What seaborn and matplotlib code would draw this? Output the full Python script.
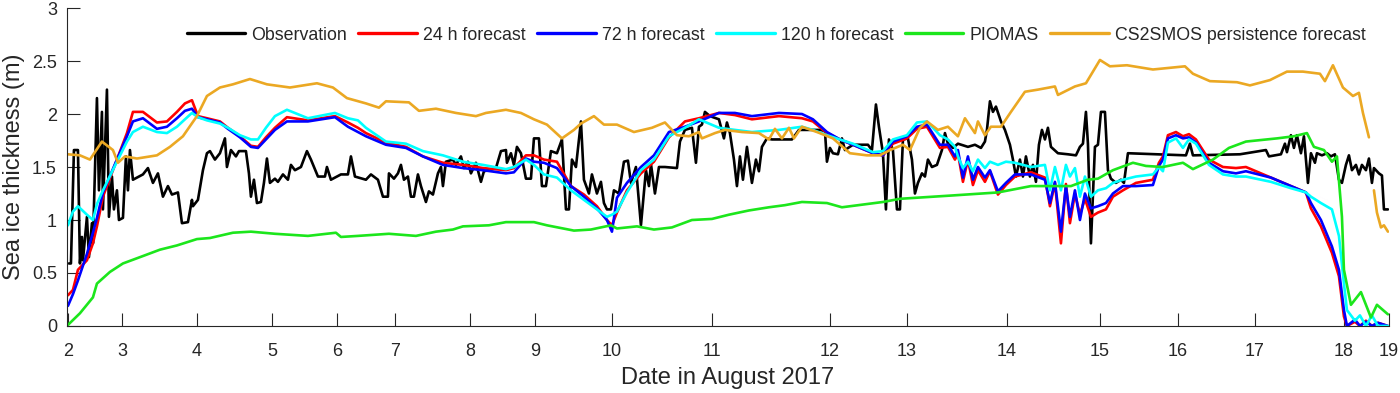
# %%
# ===== Loading Libraries =====
import numpy as np
import pandas as pd
import matplotlib
matplotlib.use('Agg')
import matplotlib.pyplot as plt
import seaborn as sns

# %%
# ===== Data =====
# x = along-track sample position, y = sea ice thickness (m)

day_ticks = [0, 54, 129, 204, 269, 327, 402, 467, 544, 644, 762, 839, 939, 1032, 1110, 1187, 1276, 1321]
day_labels = ['2', '3', '4', '5', '6', '7', '8', '9', '10', '11', '12', '13', '14', '15', '16', '17', '18', '19']
thick_ticks = [0, 0.5, 1, 1.5, 2, 2.5, 3]
thick_labels = ['0', '0.5', '1', '1.5', '2', '2.5', '3']

obs_pos = [
    1, 3, 6, 10, 12, 14, 15, 19, 21, 24,
    25, 29, 31, 34, 35, 39, 41, 44, 46, 49,
    51, 55, 58, 60, 62, 65, 75, 80, 85, 90,
    95, 100, 104, 110, 114, 120, 124, 125, 130, 135,
    139, 142, 147, 152, 157, 159, 163, 168, 171, 178,
    181, 183, 186, 189, 193, 196, 199, 202, 207, 210,
    215, 220, 223, 227, 233, 239, 243, 250, 257, 259,
    263, 273, 280, 283, 287, 298, 303, 310, 315, 320,
    321, 326, 330, 333, 336, 340, 343, 346, 350, 353,
    358, 361, 365, 370, 373, 375, 378, 385, 388, 393,
    396, 400, 403, 408, 413, 416, 421, 428, 433, 438,
    439, 443, 446, 449, 453, 458, 463, 466, 471, 474,
    478, 483, 489, 494, 498, 501, 504, 508, 513, 516,
    521, 524, 529, 533, 536, 539, 543, 546, 551, 556,
    560, 563, 568, 573, 578, 581, 583, 587, 591, 597,
    609, 612, 617, 624, 628, 631, 634, 637, 642, 651,
    656, 659, 662, 666, 669, 672, 675, 679, 684, 688,
    691, 694, 699, 704, 717, 724, 731, 734, 752, 757,
    759, 762, 765, 770, 774, 777, 785, 800, 804, 808,
    811, 815, 818, 821, 825, 829, 832, 835, 840, 844,
    847, 850, 854, 857, 860, 864, 869, 874, 877, 880,
    885, 890, 900, 907, 913, 917, 919, 922, 925, 928,
    933, 937, 942, 945, 948, 952, 955, 958, 962, 965,
    968, 971, 974, 977, 980, 983, 990, 1000, 1008, 1012,
    1015, 1018, 1020, 1023, 1027, 1030, 1033, 1037, 1040, 1043,
    1048, 1053, 1056, 1060, 1118, 1122, 1125, 1172, 1198, 1201,
    1213, 1217, 1219, 1223, 1226, 1229, 1233, 1236, 1240, 1243,
    1247, 1249, 1254, 1259, 1263, 1267, 1271, 1274, 1278, 1281,
    1284, 1288, 1291, 1294, 1298, 1301, 1304, 1306, 1311, 1314,
    1316, 1320]
obs_val = [
    0.59, 0.59, 1.66, 1.66, 0.59, 0.84, 0.62, 1.03, 0.65, 0.97,
    0.78, 2.15, 1.28, 2.02, 1.10, 2.23, 1.03, 1.41, 1.10, 1.28,
    1.00, 1.02, 1.60, 1.28, 1.66, 1.38, 1.43, 1.49, 1.35, 1.44,
    1.22, 1.32, 1.24, 1.26, 0.97, 0.98, 1.19, 1.13, 1.19, 1.47,
    1.63, 1.65, 1.57, 1.63, 1.77, 1.50, 1.66, 1.60, 1.65, 1.65,
    1.44, 1.22, 1.38, 1.16, 1.17, 1.35, 1.58, 1.35, 1.39, 1.36,
    1.43, 1.38, 1.52, 1.47, 1.50, 1.65, 1.57, 1.41, 1.41, 1.50,
    1.38, 1.43, 1.43, 1.60, 1.41, 1.38, 1.43, 1.38, 1.22, 1.22,
    1.44, 1.39, 1.44, 1.52, 1.38, 1.41, 1.22, 1.22, 1.43, 1.32,
    1.17, 1.27, 1.24, 1.44, 1.50, 1.32, 1.55, 1.57, 1.52, 1.60,
    1.49, 1.55, 1.44, 1.54, 1.36, 1.46, 1.47, 1.49, 1.65, 1.66,
    1.54, 1.63, 1.52, 1.69, 1.63, 1.39, 1.39, 1.77, 1.77, 1.32,
    1.32, 1.65, 1.63, 1.76, 1.10, 1.10, 1.57, 1.50, 1.93, 1.38,
    1.25, 1.43, 1.25, 1.36, 1.16, 1.10, 1.10, 1.28, 1.25, 1.55,
    1.56, 1.35, 1.50, 0.95, 1.47, 1.32, 1.53, 1.25, 1.50, 1.50,
    1.49, 1.74, 1.85, 1.87, 1.54, 1.88, 1.90, 2.02, 1.98, 1.95,
    1.77, 1.92, 1.82, 1.57, 1.32, 1.60, 1.38, 1.69, 1.35, 1.57,
    1.46, 1.69, 1.77, 1.76, 1.76, 1.76, 1.85, 1.85, 1.85, 1.84,
    1.55, 1.68, 1.63, 1.62, 1.77, 1.66, 1.71, 1.71, 1.66, 2.09,
    1.88, 1.63, 1.10, 1.76, 1.66, 1.10, 1.10, 1.76, 1.77, 1.57,
    1.25, 1.35, 1.44, 1.41, 1.57, 1.50, 1.52, 1.66, 1.82, 1.72,
    1.68, 1.72, 1.69, 1.71, 1.68, 1.74, 1.85, 2.12, 2.02, 2.07,
    1.93, 1.85, 1.71, 1.57, 1.41, 1.57, 1.41, 1.60, 1.41, 1.52,
    1.36, 1.71, 1.85, 1.76, 1.87, 1.69, 1.63, 1.62, 1.61, 1.69,
    1.72, 2.02, 1.72, 0.78, 1.69, 1.71, 2.02, 2.02, 1.47, 1.39,
    1.35, 1.38, 1.35, 1.63, 1.61, 1.72, 1.61, 1.62, 1.66, 1.60,
    1.62, 1.72, 1.64, 1.80, 1.68, 1.80, 1.63, 1.79, 1.35, 1.63,
    1.54, 1.63, 1.61, 1.63, 1.60, 1.62, 1.38, 1.35, 1.52, 1.61,
    1.47, 1.52, 1.43, 1.52, 1.47, 1.58, 1.35, 1.49, 1.44, 1.42,
    1.10, 1.10]

# forecasts share the same sample positions
fc_pos = [
    0, 5, 10, 19, 25, 29, 35, 49, 59, 65,
    75, 89, 99, 109, 117, 124, 130, 139, 152, 160,
    172, 183, 190, 198, 207, 219, 240, 267, 280, 290,
    298, 318, 338, 355, 375, 395, 415, 438, 446, 458,
    466, 476, 489, 503, 516, 529, 539, 544, 549, 559,
    573, 586, 601, 617, 631, 651, 667, 684, 711, 734,
    745, 759, 772, 785, 805, 815, 825, 839, 849, 859,
    872, 880, 887, 890, 895, 900, 905, 910, 917, 922,
    930, 938, 947, 963, 977, 982, 987, 993, 998, 1002,
    1007, 1012, 1017, 1023, 1030, 1038, 1045, 1055, 1068, 1085,
    1091, 1095, 1100, 1108, 1115, 1121, 1128, 1141, 1155, 1168,
    1178, 1203, 1223, 1238, 1243, 1253, 1264, 1271, 1276, 1279,
    1287, 1292, 1298, 1304, 1310, 1320]
fc24_val = [
    0.29, 0.34, 0.53, 0.62, 0.78, 0.94, 1.22, 1.57, 1.82, 2.02,
    2.02, 1.92, 1.93, 2.02, 2.10, 2.13, 1.98, 1.96, 1.93, 1.87,
    1.79, 1.70, 1.69, 1.78, 1.87, 1.97, 1.94, 1.98, 1.92, 1.87,
    1.82, 1.73, 1.69, 1.60, 1.54, 1.52, 1.49, 1.47, 1.49, 1.61,
    1.61, 1.57, 1.55, 1.32, 1.24, 1.13, 1.00, 0.95, 1.07, 1.28,
    1.44, 1.55, 1.78, 1.93, 1.96, 2.01, 1.99, 1.95, 1.98, 1.96,
    1.93, 1.82, 1.76, 1.71, 1.63, 1.61, 1.72, 1.77, 1.86, 1.88,
    1.68, 1.69, 1.57, 1.63, 1.36, 1.57, 1.33, 1.47, 1.36, 1.46,
    1.24, 1.33, 1.41, 1.45, 1.40, 1.13, 1.35, 0.78, 1.34, 0.97,
    1.25, 1.05, 1.20, 1.03, 1.07, 1.10, 1.22, 1.28, 1.35, 1.38,
    1.54, 1.60, 1.80, 1.83, 1.79, 1.81, 1.76, 1.57, 1.50, 1.49,
    1.50, 1.40, 1.32, 1.26, 1.11, 0.94, 0.69, 0.47, 0.09, 0.00,
    0.04, 0.00, 0.05, 0.00, 0.03, 0.00]
fc72_val = [
    0.19, 0.30, 0.43, 0.68, 0.88, 1.02, 1.26, 1.57, 1.79, 1.93,
    1.96, 1.86, 1.88, 1.96, 2.03, 2.05, 1.97, 1.95, 1.92, 1.86,
    1.78, 1.69, 1.68, 1.76, 1.85, 1.93, 1.93, 1.97, 1.88, 1.83,
    1.79, 1.71, 1.68, 1.60, 1.52, 1.49, 1.47, 1.44, 1.45, 1.58,
    1.55, 1.54, 1.49, 1.32, 1.22, 1.11, 1.00, 0.89, 1.21, 1.35,
    1.50, 1.61, 1.83, 1.88, 1.93, 2.01, 2.01, 1.98, 2.01, 2.00,
    1.95, 1.83, 1.76, 1.71, 1.63, 1.61, 1.74, 1.79, 1.88, 1.90,
    1.71, 1.71, 1.60, 1.66, 1.40, 1.60, 1.38, 1.50, 1.40, 1.47,
    1.27, 1.35, 1.43, 1.43, 1.38, 1.16, 1.36, 0.89, 1.32, 1.03,
    1.28, 1.00, 1.25, 1.11, 1.13, 1.16, 1.25, 1.32, 1.32, 1.33,
    1.51, 1.57, 1.77, 1.80, 1.77, 1.78, 1.73, 1.54, 1.46, 1.44,
    1.46, 1.40, 1.32, 1.26, 1.16, 1.00, 0.75, 0.53, 0.15, 0.00,
    0.06, 0.00, 0.04, 0.00, 0.03, 0.00]
fc120_val = [
    0.95, 1.08, 1.13, 1.05, 1.00, 1.15, 1.28, 1.55, 1.74, 1.83,
    1.88, 1.83, 1.82, 1.88, 1.95, 2.01, 1.97, 1.94, 1.91, 1.87,
    1.80, 1.76, 1.76, 1.87, 1.98, 2.04, 1.96, 2.01, 1.96, 1.94,
    1.87, 1.74, 1.72, 1.65, 1.61, 1.55, 1.52, 1.48, 1.50, 1.57,
    1.52, 1.43, 1.40, 1.28, 1.19, 1.10, 1.03, 1.05, 1.08, 1.26,
    1.47, 1.57, 1.79, 1.87, 1.95, 1.87, 1.85, 1.83, 1.85, 1.88,
    1.85, 1.80, 1.76, 1.72, 1.64, 1.65, 1.76, 1.80, 1.92, 1.93,
    1.80, 1.76, 1.69, 1.60, 1.49, 1.55, 1.46, 1.57, 1.49, 1.55,
    1.52, 1.55, 1.54, 1.50, 1.52, 1.28, 1.50, 1.28, 1.52, 1.41,
    1.49, 1.22, 1.41, 1.22, 1.28, 1.30, 1.35, 1.38, 1.41, 1.43,
    1.50, 1.46, 1.73, 1.77, 1.68, 1.76, 1.72, 1.52, 1.43, 1.41,
    1.41, 1.36, 1.30, 1.26, 1.22, 1.16, 1.10, 0.85, 0.40, 0.15,
    0.05, 0.10, 0.00, 0.10, 0.00, 0.00]

piomas_pos = [
    0, 12, 25, 29, 42, 55, 75, 92, 109, 129,
    142, 165, 183, 207, 240, 268, 273, 290, 321, 348,
    368, 385, 395, 421, 438, 453, 466, 479, 506, 523,
    543, 549, 569, 586, 604, 624, 644, 661, 681, 701,
    717, 734, 759, 774, 815, 832, 882, 930, 963, 977,
    1003, 1020, 1030, 1045, 1065, 1078, 1095, 1115, 1125, 1145,
    1161, 1178, 1209, 1226, 1239, 1246, 1256, 1264, 1269, 1274,
    1276, 1283, 1293, 1303, 1309, 1320]
piomas_val = [
    0.01, 0.12, 0.27, 0.40, 0.51, 0.59, 0.66, 0.72, 0.76, 0.82,
    0.83, 0.88, 0.89, 0.87, 0.85, 0.88, 0.84, 0.85, 0.87, 0.85,
    0.89, 0.91, 0.94, 0.95, 0.98, 0.98, 0.98, 0.95, 0.90, 0.91,
    0.95, 0.92, 0.94, 0.91, 0.93, 1.00, 1.01, 1.05, 1.09, 1.12,
    1.14, 1.17, 1.16, 1.12, 1.17, 1.20, 1.23, 1.26, 1.32, 1.32,
    1.32, 1.38, 1.39, 1.47, 1.54, 1.51, 1.50, 1.54, 1.48, 1.57,
    1.68, 1.74, 1.77, 1.79, 1.82, 1.69, 1.66, 1.55, 1.60, 1.03,
    0.53, 0.20, 0.32, 0.08, 0.20, 0.11]

cs2_pos = [
    0, 12, 22, 34, 45, 50, 57, 69, 89, 102,
    115, 129, 139, 152, 165, 182, 199, 222, 249, 265,
    279, 298, 311, 318, 341, 351, 368, 388, 408, 418,
    438, 453, 466, 479, 494, 506, 513, 526, 536, 549,
    566, 584, 597, 609, 621, 631, 634, 647, 657, 674,
    691, 701, 707, 714, 721, 726, 734, 749, 765, 782,
    799, 812, 822, 835, 842, 852, 859, 870, 880, 890,
    897, 907, 910, 917, 923, 933, 943, 957, 970, 987,
    990, 1007, 1018, 1032, 1042, 1059, 1085, 1117, 1125, 1142,
    1169, 1182, 1202, 1219, 1235, 1252, 1257, 1265, 1275, 1285,
    1291, 1295, 1301, 1303, 1306, 1309, 1313, 1316, 1320]
cs2_val = [
    1.62, 1.61, 1.57, 1.74, 1.66, 1.54, 1.60, 1.58, 1.61, 1.69,
    1.79, 1.98, 2.17, 2.25, 2.28, 2.33, 2.28, 2.25, 2.29, 2.25,
    2.15, 2.10, 2.06, 2.12, 2.11, 2.03, 2.05, 2.01, 1.98, 2.01,
    2.04, 2.01, 1.95, 1.90, 1.77, 1.85, 1.91, 1.98, 1.90, 1.90,
    1.83, 1.87, 1.92, 1.80, 1.79, 1.83, 1.77, 1.82, 1.85, 1.83,
    1.82, 1.76, 1.86, 1.77, 1.87, 1.77, 1.88, 1.83, 1.77, 1.63,
    1.61, 1.61, 1.66, 1.71, 1.66, 1.87, 1.93, 1.85, 1.88, 1.79,
    1.96, 1.82, 1.93, 1.80, 1.88, 1.88, 2.02, 2.21, 2.23, 2.26,
    2.18, 2.26, 2.29, 2.51, 2.45, 2.46, 2.42, 2.45, 2.38, 2.31,
    2.30, 2.27, 2.32, 2.40, 2.40, 2.38, 2.31, 2.46, 2.25, 2.17,
    2.20, 2.01, 1.78, np.nan, 1.28, 1.07, 0.93, 0.95, 0.89]

series = [
    ('Observation', obs_pos, obs_val, 'black'),
    ('24 h forecast', fc_pos, fc24_val, '#FF0000'),
    ('72 h forecast', fc_pos, fc72_val, '#0000FF'),
    ('120 h forecast', fc_pos, fc120_val, '#00FFFF'),
    ('PIOMAS', piomas_pos, piomas_val, '#1CE61C'),
    ('CS2SMOS persistence forecast', cs2_pos, cs2_val, '#EBA823'),
]

# %%
# ===== Plot =====
sns.set_style('ticks')
plt.rcParams['font.family'] = ['Liberation Sans', 'DejaVu Sans']
ink = '#262626'

fig = plt.figure(figsize=(14, 3.93), dpi=100)
ax = fig.add_axes([0.0476, 0.1705, 0.9445, 0.8091])

for name, pos, val, color in series:
    df = pd.DataFrame({'pos': pos, 'thickness': val})
    df['seg'] = df['thickness'].isna().cumsum()   # break the line at gaps
    df = df.dropna()
    for i, (_, part) in enumerate(df.groupby('seg')):
        sns.lineplot(data=part, x='pos', y='thickness', color=color, linewidth=1.9,
                     estimator=None, sort=False, legend=False,
                     label=name if i == 0 else None, ax=ax)

ax.set_xlim(-1.3, 1321)
ax.set_ylim(0, 3)
ax.set_xticks(day_ticks, day_labels)
ax.set_yticks(thick_ticks, thick_labels)
ax.tick_params(direction='in', length=9.4, width=0.8, color=ink,
               labelcolor=ink, labelsize=13)
ax.tick_params(axis='x', pad=12)
ax.tick_params(axis='y', pad=7)
sns.despine(ax=ax)
for side in ['left', 'bottom']:
    ax.spines[side].set_color(ink)
    ax.spines[side].set_linewidth(0.8)

ax.set_xlabel('Date in August 2017', fontsize=17, color=ink, labelpad=5)
ax.set_ylabel('Sea ice thickness (m)', fontsize=17, color=ink, labelpad=5)

handles, labels = ax.get_legend_handles_labels()
leg = ax.legend(handles, labels, loc='center', bbox_to_anchor=(0.5365, 0.915),
                ncol=6, frameon=False, fontsize=12.8, handlelength=3.3,
                handletextpad=0.35, columnspacing=0.63)
for line in leg.get_lines():
    line.set_linewidth(2.4)

fig.savefig('out.png', dpi=100)
